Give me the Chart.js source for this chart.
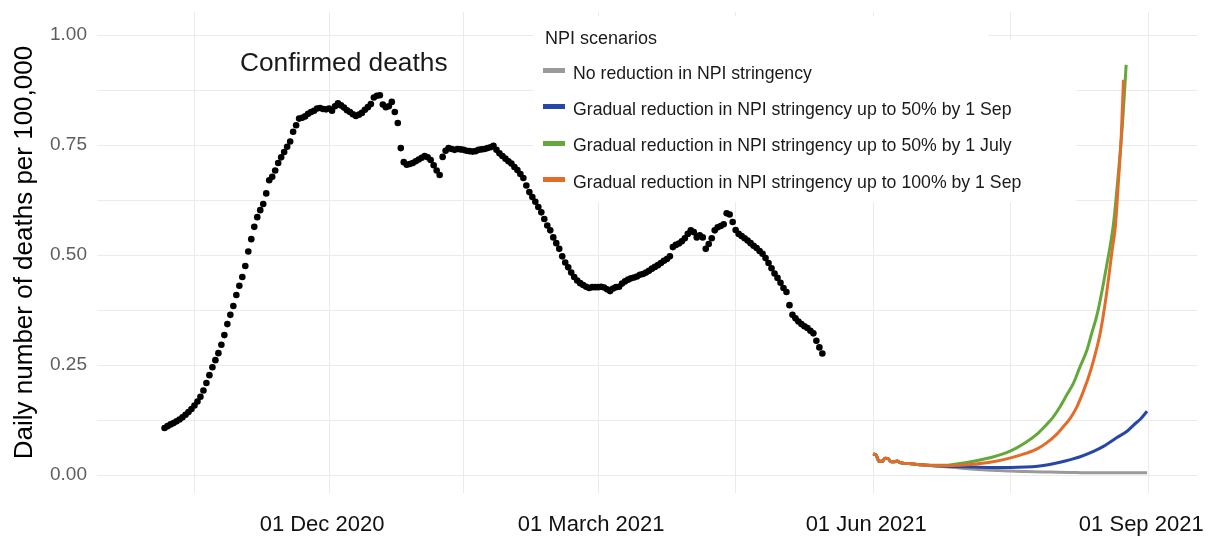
<!DOCTYPE html>
<html><head><meta charset="utf-8">
<script src="https://cdn.jsdelivr.net/npm/chart.js@4.4.1/dist/chart.umd.min.js"></script>
<style>
html,body{margin:0;padding:0;background:#fff;}
#wrap{position:relative;width:1219px;height:536px;overflow:hidden;font-family:"Liberation Sans",Arial,Helvetica,sans-serif;}
canvas{position:absolute;left:0;top:0;}
.lbl{position:absolute;white-space:nowrap;color:#1a1a1a;}
.key{position:absolute;}
</style></head>
<body><div id="wrap"><canvas id="c" width="1219" height="536"></canvas><div id="overlay"></div></div>
<script>
// ---------------- data ----------------
// x values are days since 01 Dec 2020
const deathsFirstDay = -55; // 07 Oct 2020, then one value per day
const confirmedDeaths = [
0.107,0.111,0.115,0.118,0.122,0.126,0.131,0.137,0.143,0.150,
0.158,0.167,0.178,0.192,0.209,0.227,0.245,0.261,0.277,0.296,
0.318,0.343,0.364,0.384,0.409,0.430,0.450,0.475,0.508,0.536,
0.564,0.586,0.602,0.616,0.640,0.670,0.678,0.692,0.709,0.722,
0.734,0.746,0.758,0.780,0.795,0.810,0.812,0.815,0.821,0.825,
0.828,0.833,0.834,0.832,0.831,0.833,0.828,0.838,0.845,0.840,
0.835,0.829,0.825,0.820,0.816,0.819,0.823,0.830,0.836,0.843,
0.858,0.862,0.863,0.842,0.836,0.838,0.848,0.825,0.800,0.743,
0.711,0.705,0.707,0.709,0.713,0.717,0.721,0.725,0.722,0.716,
0.704,0.692,0.682,0.723,0.737,0.743,0.741,0.739,0.741,0.740,
0.739,0.737,0.736,0.735,0.736,0.739,0.740,0.741,0.743,0.745,
0.748,0.739,0.731,0.725,0.719,0.713,0.708,0.700,0.693,0.684,
0.675,0.658,0.643,0.632,0.621,0.609,0.597,0.582,0.567,0.556,
0.540,0.527,0.514,0.497,0.483,0.472,0.460,0.450,0.442,0.436,
0.432,0.428,0.425,0.427,0.427,0.427,0.428,0.426,0.422,0.418,
0.424,0.427,0.428,0.435,0.440,0.444,0.447,0.449,0.451,0.455,
0.457,0.460,0.464,0.469,0.473,0.477,0.482,0.487,0.491,0.497,
0.518,0.523,0.526,0.531,0.538,0.548,0.556,0.552,0.540,0.545,
0.540,0.514,0.525,0.538,0.556,0.563,0.566,0.570,0.595,0.592,
0.575,0.557,0.548,0.543,0.538,0.533,0.527,0.521,0.516,0.509,
0.503,0.493,0.482,0.470,0.458,0.448,0.437,0.425,0.416,0.386,
0.364,0.356,0.349,0.343,0.338,0.334,0.328,0.322,0.305,0.290,
0.276];

// shared start of all scenario projections (from 01 Jun 2021)
const sharedDays   = [182,183,184,185,186,187,188,189,190,191,192,194,197,200];
const sharedValues = [0.048,0.045,0.031,0.031,0.038,0.037,0.030,0.030,0.032,0.028,0.027,0.026,0.024,0.022];

const noReductionDays   = [206,211,216,222,228,233,239,244,250,255,265,273.6];
const noReductionValues = [0.019,0.016,0.013,0.011,0.009,0.008,0.007,0.006,0.0055,0.005,0.005,0.005];

const sep50Days   = [206,211,216,222,228,233,237,241,244.5,248,251,255.5,259,263.5,267,269,271.5,273.6];
const sep50Values = [0.020,0.019,0.018,0.017,0.017,0.018,0.020,0.024,0.029,0.035,0.041,0.053,0.065,0.085,0.100,0.113,0.128,0.145];

const july50Days   = [206,211,216,222,228,233,237,240,242,244.5,247,249,251,253.5,255,257,260,262.4,264,265.4,266.6];
const july50Values = [0.022,0.026,0.032,0.041,0.055,0.074,0.094,0.115,0.130,0.155,0.185,0.209,0.243,0.284,0.320,0.368,0.473,0.573,0.686,0.800,0.932];

const sep100Days   = [206,211,216,222,228,233,237,240,243,245,248,250,252,254,256,258,260,262,263,264,265,265.7];
const sep100Values = [0.021,0.022,0.025,0.030,0.039,0.049,0.060,0.073,0.090,0.105,0.130,0.153,0.185,0.222,0.268,0.325,0.410,0.515,0.565,0.665,0.775,0.898];

const scenarioNames = [
  'No reduction in NPI stringency',
  'Gradual reduction in NPI stringency up to 50% by 1 Sep',
  'Gradual reduction in NPI stringency up to 50% by 1 July',
  'Gradual reduction in NPI stringency up to 100% by 1 Sep'
];
const legendTitle = 'NPI scenarios';
const annotationText = 'Confirmed deaths';
const yAxisTitle = 'Daily number of deaths per 100,000';

const xMajorTicks = [0, 90, 182, 274];
const xMajorLabels = ['01 Dec 2020', '01 March 2021', '01 Jun 2021', '01 Sep 2021'];
const xMinorTicks = [-45, 45, 136, 228];
const yMajorTicks = [0, 0.25, 0.5, 0.75, 1.0];
const yMinorTicks = [0.125, 0.375, 0.625, 0.875];

// ---------------- styles ----------------
const scenarioColors = ['#9a9a9a', '#2747a6', '#62a83a', '#e36c28'];
const FONT = '"Liberation Sans", Arial, Helvetica, sans-serif';
const X_MIN = -77.6, X_MAX = 290.3, Y_MIN = -0.0409, Y_MAX = 1.0523;

function pts(days, vals) { return days.map((d, i) => ({x: d, y: vals[i]})); }
const deathPoints = confirmedDeaths.map((v, i) => ({x: deathsFirstDay + i, y: v}));
const scenarioSeries = [
  pts(sharedDays.concat(noReductionDays), sharedValues.concat(noReductionValues)),
  pts(sharedDays.concat(sep50Days), sharedValues.concat(sep50Values)),
  pts(sharedDays.concat(july50Days), sharedValues.concat(july50Values)),
  pts(sharedDays.concat(sep100Days), sharedValues.concat(sep100Values))
];
const lineOrder = [4, 3, 2, 1];

const datasets = [{
  label: annotationText, data: deathPoints, showLine: false,
  pointRadius: 3.3, pointBorderWidth: 0, pointBackgroundColor: '#000', borderColor: '#000', order: 0
}].concat(scenarioSeries.map((s, i) => ({
  label: scenarioNames[i], data: s, borderColor: scenarioColors[i], borderWidth: 3,
  pointRadius: 0, fill: false, cubicInterpolationMode: 'monotone', order: lineOrder[i]
})));

const legendBox = {
  id: 'legendBox',
  beforeDatasetsDraw(chart) {
    const ctx = chart.ctx;
    ctx.save();
    ctx.fillStyle = '#ffffff';
    ctx.fillRect(533, 16, 455, 186);
    ctx.fillRect(988, 40, 88, 162);
    ctx.restore();
  }
};

const xAll = xMinorTicks.concat(xMajorTicks).sort((a, b) => a - b);
const yAll = yMinorTicks.concat(yMajorTicks).sort((a, b) => a - b);

new Chart(document.getElementById('c'), {
  type: 'line',
  data: {datasets},
  plugins: [legendBox],
  options: {
    responsive: false, animation: false,
    layout: {padding: {top: 12, right: 22, left: 0, bottom: 0}},
    plugins: {legend: {display: false}, tooltip: {enabled: false}},
    scales: {
      x: {
        type: 'linear', min: X_MIN, max: X_MAX,
        border: {display: false},
        grid: {color: '#ebebeb', lineWidth: 1, drawTicks: false},
        afterBuildTicks: s => { s.ticks = xAll.map(v => ({value: v})); },
        afterFit: s => { s.height = 43; s.paddingLeft = 0; s.paddingRight = 0; },
        ticks: {
          autoSkip: false, maxRotation: 0, minRotation: 0, padding: 18.5, labelOffset: -7,
          color: '#111', font: {family: FONT, size: 22},
          callback: v => { const k = xMajorTicks.indexOf(v); return k >= 0 ? xMajorLabels[k] : ''; }
        }
      },
      y: {
        type: 'linear', min: Y_MIN, max: Y_MAX,
        border: {display: false},
        grid: {color: '#ebebeb', lineWidth: 1, drawTicks: false},
        afterBuildTicks: s => { s.ticks = yAll.map(v => ({value: v})); },
        afterFit: s => { s.width = 97; s.paddingTop = 0; s.paddingBottom = 0; },
        title: {display: true, text: yAxisTitle, color: '#000', font: {family: FONT, size: 26}, padding: {top: 9, bottom: 0}},
        ticks: {
          autoSkip: false, padding: 10, color: '#5e5e5e', font: {family: FONT, size: 19},
          callback: v => (yMajorTicks.indexOf(v) >= 0 ? v.toFixed(2) : '')
        }
      }
    }
  }
});

// ---------------- overlay texts ----------------
const ov = document.getElementById('overlay');
function addText(txt, left, capCenter, size) {
  const d = document.createElement('div');
  d.className = 'lbl';
  d.textContent = txt;
  d.style.left = left + 'px';
  d.style.fontSize = size + 'px';
  d.style.lineHeight = size + 'px';
  d.style.top = (capCenter - size * 0.3385) + 'px';
  ov.appendChild(d);
}
addText(annotationText, 240, 57.5, 26.3);
addText(legendTitle, 545, 35, 18);
const LEG_ROW0 = 70.5, LEG_STEP = 36.4;
scenarioNames.forEach((name, i) => {
  const cy = LEG_ROW0 + i * LEG_STEP;
  const k = document.createElement('div');
  k.className = 'key';
  k.style.left = '543px'; k.style.width = '22px'; k.style.height = '5px';
  k.style.top = (cy - 2.5) + 'px'; k.style.background = scenarioColors[i];
  ov.appendChild(k);
  addText(name, 573, cy, 17.7);
});
</script>
</body></html>
